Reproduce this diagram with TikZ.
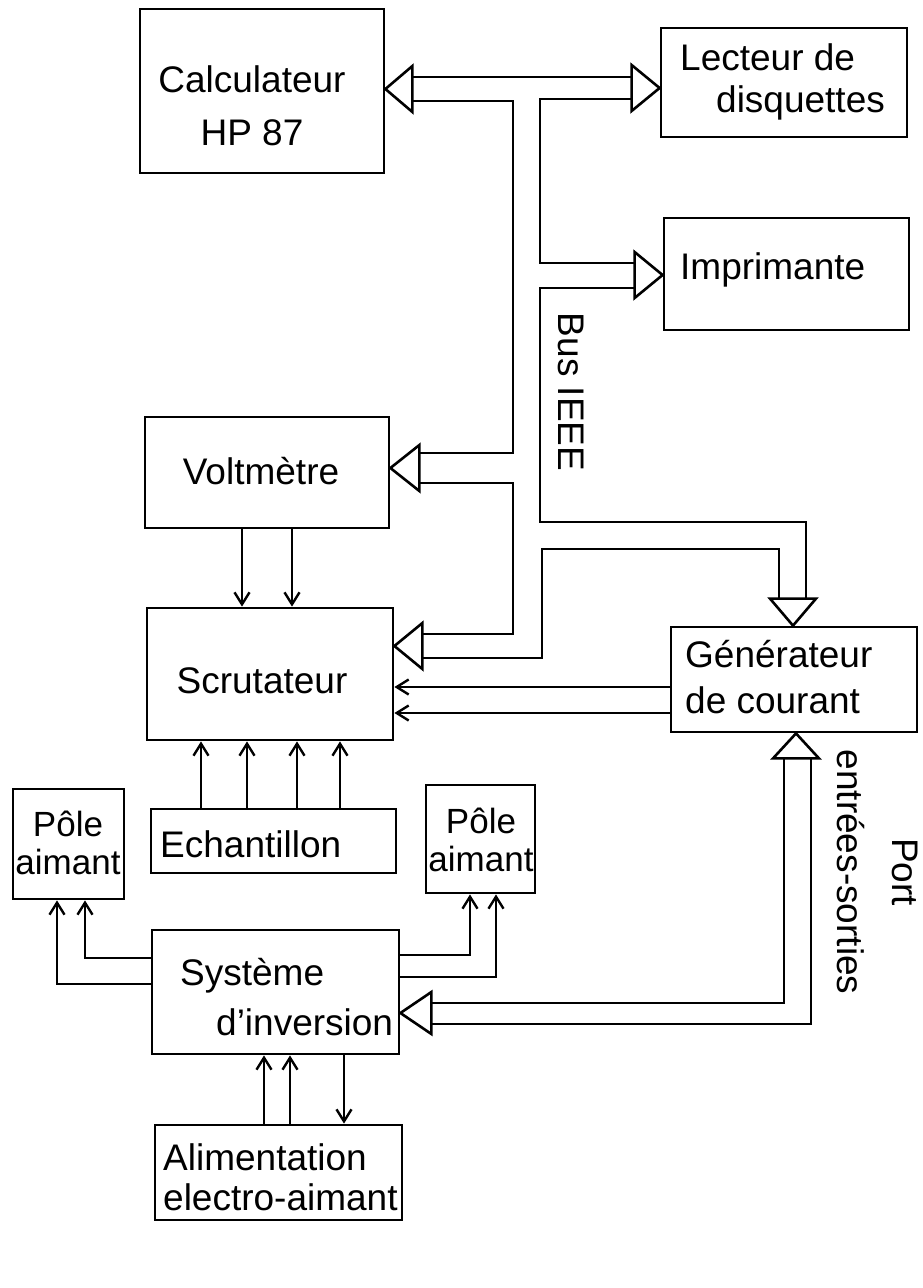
\documentclass[tikz,border=0pt]{standalone}
\usepackage{fontspec}
\setmainfont{Liberation Sans}
\usetikzlibrary{arrows.meta,calc}
\begin{document}
\begin{tikzpicture}[x=1pt,y=-1pt,
  wire/.style={line width=2.6pt, line join=miter},
  blk/.style={draw, line width=2.8pt, rectangle, inner sep=0pt},
  txt/.style={inner sep=0pt, font=\fontsize{37}{44}\selectfont},
  sig/.style={wire, -{Straight Barb[length=12pt,width=15pt,line width=2.4pt]}},
  tri/.style={wire, fill=white}]
\fill[white] (0,0) rectangle (922,1288);
\useasboundingbox (0,0) rectangle (922,1288);

% boxes
\node[blk, minimum width=244, minimum height=164] (calc) at (262,91) {};
\node[blk, minimum width=246, minimum height=109] (lect) at (784,82.5) {};
\node[blk, minimum width=245, minimum height=112] (impr) at (786.5,274) {};
\node[blk, minimum width=244, minimum height=111] (volt) at (267,472.5) {};
\node[blk, minimum width=246, minimum height=132] (scru) at (270,674) {};
\node[blk, minimum width=246, minimum height=105] (gen) at (794,679.5) {};
\node[blk, minimum width=245, minimum height=64] (ech) at (273.5,841) {};
\node[blk, minimum width=111, minimum height=110] (pole1) at (68.5,844) {};
\node[blk, minimum width=109, minimum height=108] (pole2) at (480.5,839) {};
\node[blk, minimum width=247, minimum height=124] (sys) at (275.5,992) {};
\node[blk, minimum width=247, minimum height=95] (alim) at (278.5,1172.5) {};

% texts
\node[txt, font=\fontsize{37}{53}\selectfont, align=center, anchor=north] (calct) at (252,65) {Calculateur\\HP 87};
\node[txt, font=\fontsize{37}{42}\selectfont, align=left, anchor=north west] (lectt) at (680,43) {Lecteur de\\\hspace*{36pt}disquettes};
\node[txt, anchor=north west] (imprt) at (680,252) {Imprimante};
\node[txt, anchor=north] (voltt) at (261,457) {Voltmètre};
\node[txt, anchor=north] (scrut) at (262,667) {Scrutateur};
\node[txt, font=\fontsize{37}{46}\selectfont, align=left, anchor=north west] (gent) at (685,640) {Générateur\\de courant};
\node[txt, anchor=north west] (echt) at (160,830) {Echantillon};
\node[txt, font=\fontsize{35}{38}\selectfont, align=center, anchor=north] (pole1t) at (68,811) {Pôle\\aimant};
\node[txt, font=\fontsize{35}{38}\selectfont, align=center, anchor=north] (pole2t) at (481,808) {Pôle\\aimant};
\node[txt, font=\fontsize{37}{50}\selectfont, align=left, anchor=north west] (syst) at (180,958) {Système\\\hspace*{36pt}d’inversion};
\node[txt, font=\fontsize{37}{40}\selectfont, align=left, anchor=north west] (alimt) at (163,1143) {Alimentation\\electro-aimant};
\node[txt, rotate=-90] (bust) at (571,392) {Bus IEEE};
\node[txt, font=\fontsize{37}{55}\selectfont, align=center, rotate=-90] (portt) at (878,872) {Port\\entrées-sorties};

% IEEE bus (double lines)
\draw[wire] (411,77) -- (633,77);
\draw[wire] (411,101) -- (513,101) -- (513,453) -- (418,453);
\draw[wire] (633,99) -- (540,99) -- (540,263) -- (636,263);
\draw[wire] (636,288) -- (540,288) -- (540,522) -- (806,522) -- (806,600);
\draw[wire] (779,600) -- (779,549) -- (542,549) -- (542,658) -- (420,658);
\draw[wire] (420,634) -- (513,634) -- (513,483) -- (418,483);
% hollow arrow heads
\draw[tri] (calc.east |- 0,89) -- ++(27,-23) -- ++(0,46) -- cycle;
\draw[tri] (lect.west |- 0,88) -- ++(-28,-23) -- ++(0,46) -- cycle;
\draw[tri] (impr.west |- 0,275) -- ++(-28,-23) -- ++(0,46) -- cycle;
\draw[tri] (volt.east |- 0,468) -- ++(29,-23) -- ++(0,46) -- cycle;
\draw[tri] (scru.east |- 0,646) -- ++(28,-23) -- ++(0,46) -- cycle;
\draw[tri] (gen.north -| 793,0) -- ++(-23,-27) -- ++(46,0) -- cycle;

% I/O port (double lines)
\draw[wire] (784,758) -- (784,1003) -- (430,1003);
\draw[wire] (811,758) -- (811,1024) -- (430,1024);
\draw[tri] (gen.south -| 796,0) -- ++(-23,25) -- ++(46,0) -- cycle;
\draw[tri] (sys.east |- 0,1013) -- ++(31,-21) -- ++(0,42) -- cycle;

% signal arrows
\draw[sig] (volt.south -| 242,0) -- (scru.north -| 242,0);
\draw[sig] (volt.south -| 292,0) -- (scru.north -| 292,0);
\draw[sig] (gen.west |- 0,687) -- (scru.east |- 0,687);
\draw[sig] (gen.west |- 0,713) -- (scru.east |- 0,713);
\draw[sig] (ech.north -| 201,0) -- (scru.south -| 201,0);
\draw[sig] (ech.north -| 247,0) -- (scru.south -| 247,0);
\draw[sig] (ech.north -| 297,0) -- (scru.south -| 297,0);
\draw[sig] (ech.north -| 340,0) -- (scru.south -| 340,0);
\draw[sig] (sys.west |- 0,958) -- (85,958) -- (pole1.south -| 85,0);
\draw[sig] (sys.west |- 0,984) -- (57,984) -- (pole1.south -| 57,0);
\draw[sig] (sys.east |- 0,955) -- (470,955) -- (pole2.south -| 470,0);
\draw[sig] (sys.east |- 0,977) -- (496,977) -- (pole2.south -| 496,0);
\draw[sig] (alim.north -| 264,0) -- (sys.south -| 264,0);
\draw[sig] (alim.north -| 290,0) -- (sys.south -| 290,0);
\draw[sig] (sys.south -| 344,0) -- (alim.north -| 344,0);
\end{tikzpicture}
\end{document}
